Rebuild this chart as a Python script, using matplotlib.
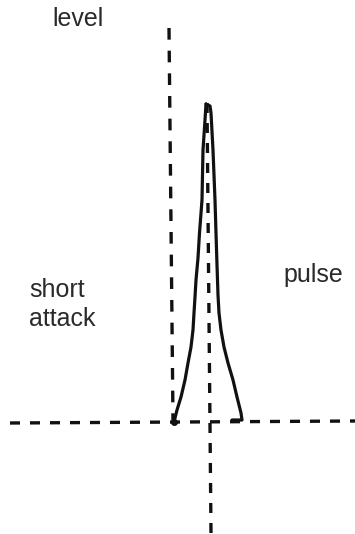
import matplotlib.pyplot as plt

# pulse shape (pixel coords, y grows downward)
attack_x = [174, 177, 181, 185, 188, 191, 193, 194, 195, 196, 198, 199.5, 202, 203, 205, 206]
attack_y = [422, 410, 397, 380, 363, 347, 330, 313, 297, 280, 258, 233, 200, 150, 120, 104]
decay_x = [206, 210, 211, 213, 215, 216, 217, 218, 219, 221, 224, 228, 233, 237, 241, 242, 232]
decay_y = [104, 106, 113, 150, 200, 233, 265, 295, 313, 330, 347, 363, 380, 397, 413, 420, 420]

# dashed guide lines (start, end)
level_axis_x = [169, 173]
level_axis_y = [28, 421]
time_axis_x = [10, 355]
time_axis_y = [423, 421]
peak_axis_x = [207, 211]
peak_axis_y = [103, 533]

labels = ["level", "short\nattack", "pulse"]
label_x = [52, 29, 283]
label_y = [26, 326, 282]

ink = "#111111"

fig = plt.figure(figsize=(3.55, 5.34), dpi=100)
ax = fig.add_axes([0, 0, 1, 1])
ax.set_xlim(0, 355)
ax.set_ylim(534, 0)
ax.axis("off")

dash = (0, (3, 3))
ax.plot(level_axis_x, level_axis_y, color=ink, lw=2.4, linestyle=(0, (3.5, 3.3)))
ax.plot(time_axis_x, time_axis_y, color=ink, lw=2.4, linestyle=dash)
ax.plot(peak_axis_x, peak_axis_y, color=ink, lw=2.4, linestyle=dash)

# the pulse itself
ax.plot(attack_x, attack_y, color=ink, lw=2.3, solid_capstyle="round", solid_joinstyle="round")
ax.plot(decay_x, decay_y, color=ink, lw=2.3, solid_capstyle="round", solid_joinstyle="round")
ax.plot(attack_x[0], attack_y[0], "o", color=ink, ms=4)

for txt, x, y in zip(labels, label_x, label_y):
    ax.text(x, y, txt, fontsize=18, family="Liberation Sans", color="#2a2a2a",
            ha="left", va="baseline", linespacing=1.25)

fig.savefig("out.png", dpi=100)
